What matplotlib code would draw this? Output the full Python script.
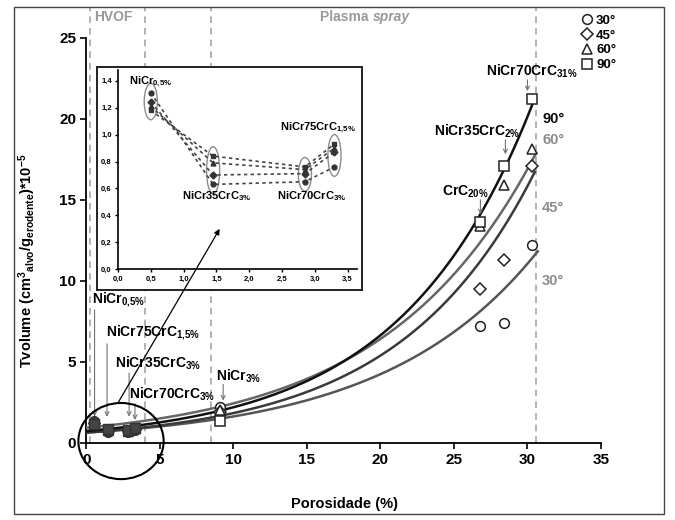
import numpy as np
import matplotlib
matplotlib.use("Agg")
import matplotlib.pyplot as plt
from matplotlib.patches import Ellipse, Rectangle
from matplotlib.lines import Line2D

plt.rcParams['font.family'] = ['Liberation Sans', 'DejaVu Sans']
plt.rcParams['font.weight'] = 'bold'
plt.rcParams['axes.labelweight'] = 'bold'
plt.rcParams['mathtext.fontset'] = 'custom'
plt.rcParams['mathtext.rm'] = 'Liberation Sans:bold'
plt.rcParams['mathtext.it'] = 'Liberation Sans:bold:italic'
plt.rcParams['mathtext.bf'] = 'Liberation Sans:bold'
plt.rcParams['mathtext.default'] = 'rm'

# porosity (%) of each coating
porosity = [0.5, 1.45, 2.85, 3.3, 9.1, 26.8, 28.4, 30.3]
# volume loss (cm3/g *1e-5) per impact angle
vol_30 = [1.31, 0.63, 0.65, 0.76, 2.2, 7.2, 7.4, 12.2]
vol_45 = [1.24, 0.70, 0.71, 0.87, 1.9, 9.5, 11.3, 17.1]
vol_60 = [1.21, 0.79, 0.74, 0.90, 2.0, 13.4, 15.9, 18.1]
vol_90 = [1.18, 0.84, 0.76, 0.93, 1.35, 13.6, 17.1, 21.2]
angles = ["30°", "45°", "60°", "90°"]

# exponential trendlines y = a*exp(b*x)
fit_a = [0.62, 0.62, 0.92, 0.72]
fit_b = [0.096, 0.108, 0.097, 0.111]
fit_end = [30.7, 30.5, 30.6, 30.4]

coatings = [r"NiCr$_{0{,}5\%}$", r"NiCr75CrC$_{1{,}5\%}$", r"NiCr35CrC$_{3\%}$",
            r"NiCr70CrC$_{3\%}$", r"NiCr$_{3\%}$", r"CrC$_{20\%}$",
            r"NiCr35CrC$_{2\%}$", r"NiCr70CrC$_{31\%}$"]

series = [vol_30, vol_45, vol_60, vol_90]
markers = ['o', 'D', '^', 's']
msizes = [7, 6, 7, 7]
line_cols = ['#555555', '#3a3a3a', '#666666', '#111111']
lab_cols = ['0.55', '0.55', '0.55', '0.05']

fig = plt.figure(figsize=(6.75, 5.2), dpi=100)
ax = fig.add_axes([0.1281, 0.1487, 0.7622, 0.835])
ax.set_xlim(0, 35)
ax.set_ylim(0, 26.8)
for s in ['top', 'right']:
    ax.spines[s].set_visible(False)
ax.spines['left'].set_bounds(0, 25)
ax.set_xticks(range(0, 36, 5))
ax.set_yticks(range(0, 26, 5))
ax.tick_params(labelsize=11, length=4, width=1.2)
for lbl in ax.get_xticklabels() + ax.get_yticklabels():
    lbl.set_fontweight('bold')
for s in ['left', 'bottom']:
    ax.spines[s].set_linewidth(1.3)

# process regions
for xv in [0.24, 4.0, 8.5, 30.55]:
    ax.axvline(xv, color='0.65', lw=1.2, ls=(0, (4, 3)), zorder=1)
ax.text(1.8, 26.3, "HVOF", color='0.6', fontsize=10, ha='center', va='center')
ax.text(19.45, 26.3, "Plasma ", color='0.6', fontsize=10, ha='right', va='center')
ax.text(19.45, 26.3, "spray", color='0.6', fontsize=10, ha='left', va='center',
        style='italic')

# trendlines
for a, b, xe, c in zip(fit_a, fit_b, fit_end, line_cols):
    xs = np.linspace(0, xe, 200)
    ax.plot(xs, a * np.exp(b * xs), color=c, lw=1.8, zorder=3)

# markers
for vals, m, ms in zip(series, markers, msizes):
    ax.plot(porosity[4:], vals[4:], ls='none', marker=m, ms=ms, mfc='white',
            mec='#222222', mew=1.1, zorder=4)
    ax.plot(porosity[:4], vals[:4], ls='none', marker=m, ms=ms, mfc='#444444',
            mec='#333333', mew=1.0, zorder=4)

# angle labels at end of each curve
for txt, yv, c in zip(angles, [10.0, 14.5, 18.7, 20.0], lab_cols):
    ax.text(31.0, yv, txt, color=c, fontsize=10.5, ha='left', va='center')

# coating labels with arrows
lab_pos = [(0.35, 8.8), (1.3, 6.8), (1.95, 4.9), (2.9, 3.0), (8.8, 4.1),
           (25.8, 15.5), (26.6, 19.2), (30.3, 22.9)]
lab_ha = ['left', 'left', 'left', 'left', 'left', 'center', 'center', 'center']
arrows = [(0.55, 8.2, 1.6), (1.4, 6.1, 1.6), (2.9, 4.3, 1.6), (3.3, 2.4, 1.4),
          (9.3, 3.6, 2.6), (26.8, 15.0, 14.1), (28.5, 18.7, 17.8), (30.0, 22.4, 21.7)]
for name, (tx, ty), ha, (axx, y0, y1) in zip(coatings, lab_pos, lab_ha, arrows):
    ax.text(tx, ty, name, fontsize=10, ha=ha, va='center', zorder=6)
    ax.annotate('', xy=(axx, y1), xytext=(axx, y0),
                arrowprops=dict(arrowstyle='->', color='0.45', lw=0.8,
                                shrinkA=0, shrinkB=0, mutation_scale=7))

# ring round the HVOF coatings
ax.add_patch(Ellipse((2.35, 0.1), 5.8, 4.7, fill=False, ec='black', lw=1.5,
                     clip_on=False, zorder=5))

ax.set_xlabel("Porosidade (%)", fontsize=10.5, fontweight='bold')
ax.xaxis.set_label_coords(0.502, -0.125)
ax.set_ylabel(r"Tvolume (cm$^{3}$$_{alvo}$/g$_{erodente}$)*10$^{-5}$", fontsize=10.5,
              fontweight='bold')
ax.yaxis.set_label_coords(-0.095, 0.42)

# legend
handles = [Line2D([], [], ls='none', marker=m, ms=ms, mfc='white', mec='#222222',
                  mew=1.1) for m, ms in zip(markers, msizes)]
fig.legend(handles, angles, loc='upper left', bbox_to_anchor=(0.848, 0.99),
           frameon=False, prop={'size': 9.5, 'weight': 'bold'}, handlelength=0.8,
           handletextpad=0.3, labelspacing=0.2, borderpad=0.2)

# zoomed inset
frame = fig.add_axes([0.1437, 0.4423, 0.3926, 0.4288], zorder=2)
frame.set_xticks([])
frame.set_yticks([])
for s in frame.spines.values():
    s.set_linewidth(1.4)
    s.set_color('#222222')

axi = fig.add_axes([0.1748, 0.4821, 0.3547, 0.3835], zorder=3)
axi.patch.set_alpha(0)
axi.set_xlim(0, 3.65)
axi.set_ylim(0, 1.48)
for s in ['top', 'right']:
    axi.spines[s].set_visible(False)
for s in ['left', 'bottom']:
    axi.spines[s].set_linewidth(1.2)
axi.set_xticks(np.arange(0, 3.51, 0.5))
axi.set_yticks(np.arange(0, 1.41, 0.2))
axi.set_xticklabels([f"{v:.1f}".replace('.', ',') for v in np.arange(0, 3.51, 0.5)],
                    fontweight='bold')
axi.set_yticklabels([f"{v:.1f}".replace('.', ',') for v in np.arange(0, 1.41, 0.2)],
                    fontweight='bold')
axi.tick_params(labelsize=5.5, length=2.5, width=1, pad=2)

for vals, m in zip(series, markers):
    axi.plot(porosity[:4], vals[:4], ls=(0, (2, 2)), color='#444444', lw=1.2,
             marker=m, ms=3.5, mfc='#333333', mec='#333333', zorder=3)
for i in range(4):
    col = [v[i] for v in series]
    lo, hi = min(col), max(col)
    axi.add_patch(Ellipse((porosity[i], (lo + hi) / 2), 0.2, hi - lo + 0.14,
                          fill=False, ec='0.55', lw=1.0, zorder=2))

inset_lab = [(0.5, 1.39), (3.05, 1.05), (1.5, 0.54), (2.95, 0.54)]
for name, (tx, ty) in zip(coatings[:4], inset_lab):
    axi.text(tx, ty, name, fontsize=8, ha='center', va='center')

# arrow from the ring to the inset
axi.annotate('', xy=(1.55, 0.3), xytext=(2.14, 2.45), xycoords='data',
             textcoords=ax.transData,
             arrowprops=dict(arrowstyle='-|>', color='black', lw=0.9,
                             shrinkA=0, shrinkB=0, mutation_scale=8))

# outer border
fig.patches.append(Rectangle((14 / 675, 1 - 514 / 520), 650 / 675, 507 / 520,
                             transform=fig.transFigure, fill=False,
                             ec='#444444', lw=1.0))

plt.savefig("out.png", dpi=100)
